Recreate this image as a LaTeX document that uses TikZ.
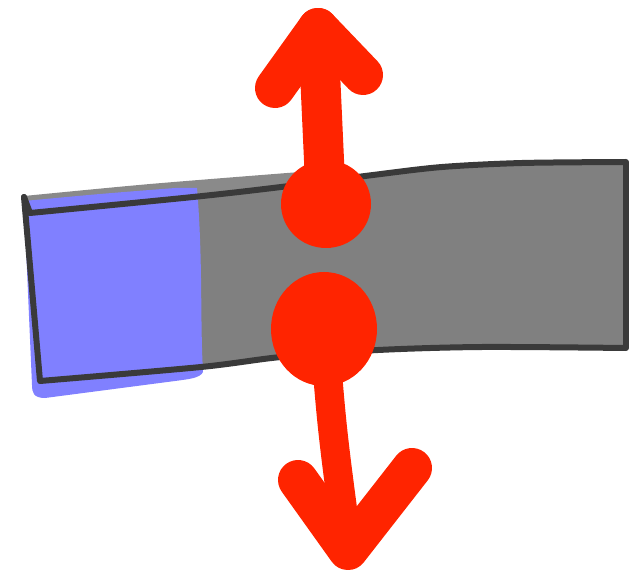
\documentclass[tikz,border=0pt]{standalone}
\definecolor{barGray}{RGB}{128,128,128}
\definecolor{stripGray}{RGB}{138,138,138}
\definecolor{barBlue}{RGB}{128,128,255}
\definecolor{edgeDark}{RGB}{58,58,58}
\definecolor{penRed}{RGB}{255,36,0}
\tikzset{
  outline/.style={draw=edgeDark, line width=6pt, line join=round, line cap=round},
  redpen/.style={draw=penRed, line cap=round, line join=round},
  dot/.style={fill=penRed}
}
\begin{document}
\begin{tikzpicture}[x=1pt,y=-1pt]
\useasboundingbox (0,0) rectangle (629,577);
% sloppy gray strip above the top edge
\fill[stripGray] (24,196) -- plot[smooth] coordinates {(24,196) (150,184) (300,172)} -- (300,190) -- (30,213) -- cycle;
% bar fill
\fill[barGray] (24,197) -- (40,381) -- plot[smooth] coordinates {(40,381) (201,367) (281,357) (378,350) (482,347) (626,348)} -- (626,162) -- plot[smooth] coordinates {(626,162) (522,163) (442,167) (373,175) (281,187) (193,197) (30,213)} -- cycle;
% blue part
\fill[barBlue] (24,201) -- plot[smooth] coordinates {(24,201) (100,194) (175,188)} -- (197,188) .. controls (203,260) and (200,320) .. (203,372) .. controls (200,378) and (190,379) .. (175,381) -- (45,398) .. controls (33,398) and (32,392) .. (32,385) -- cycle;
% outline
\draw[outline] (24,197) -- (40,381) -- plot[smooth] coordinates {(40,381) (201,367) (281,357) (378,350) (482,347) (626,348)} -- (626,162) -- plot[smooth] coordinates {(626,162) (522,163) (442,167) (373,175) (281,187) (193,197) (30,213)};
\draw[outline] (30,213) -- (24,197);
% red dots and arrows
\coordinate (upc) at (326,204);
\coordinate (lowc) at (324,329);
\coordinate (uptip) at (318,28);
\coordinate (downtip) at (348,550);
\draw[redpen, line width=40pt] (upc) -- (uptip);
\draw[redpen, line width=40pt] (275,88) -- (uptip) -- (363,75);
\draw[redpen, line width=29pt] (lowc) .. controls (332,430) .. (downtip);
\draw[redpen, line width=40pt] (298,480) -- (downtip) -- (412,468);
\fill[dot] (upc) ellipse [x radius=45pt, y radius=44pt];
\fill[dot] (lowc) ellipse [x radius=53pt, y radius=57pt];
\end{tikzpicture}
\end{document}
